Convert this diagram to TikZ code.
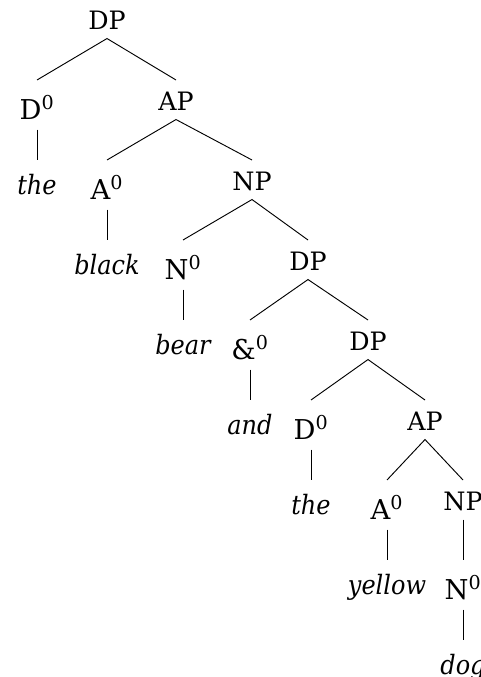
\documentclass[tikz,border=0pt]{standalone}
\usepackage{fontspec}
\setmainfont{DejaVu Serif}[ItalicFont=DejaVu Serif Condensed Italic]
\tikzset{
  phrase/.style={anchor=north,inner sep=0pt,text height=22.5pt,text depth=6.75pt,font=\fontsize{19}{22}\selectfont},
  head/.style={anchor=north,inner sep=0pt,text height=29.25pt,text depth=7.5pt,font=\fontsize{20.5}{23}\selectfont},
  word/.style={anchor=north,inner sep=0pt,text height=25.5pt,text depth=0pt,font=\fontsize{20}{22}\selectfont\itshape},
  branch/.style={line width=0.7pt}
}
\begin{document}
\begin{tikzpicture}[x=0.75pt,y=-0.75pt]
    \useasboundingbox (0,0) rectangle (481,677);
    \node[phrase] (dp0) at (107,-1) {DP};
    \node[head] (d0) at (37,80) {D\textsuperscript{0}};
    \node[phrase] (ap0) at (176,80) {AP};
    \node[word] (the0) at (37,160) {the};
    \node[head] (a0) at (107,160) {A\textsuperscript{0}};
    \node[phrase] (np0) at (252,160) {NP};
    \node[word] (black) at (107,240) {black};
    \node[head] (n0) at (183,240) {N\textsuperscript{0}};
    \node[phrase] (dp1) at (308,240) {DP};
    \node[word] (bear) at (183,320) {bear};
    \node[head] (amp) at (250,320) {\&\textsuperscript{0}};
    \node[phrase] (dp2) at (368,320) {DP};
    \node[word] (and) at (250,400) {and};
    \node[head] (d1) at (311,400) {D\textsuperscript{0}};
    \node[phrase] (ap1) at (425,400) {AP};
    \node[word] (the1) at (311,480) {the};
    \node[head] (a1) at (387,480) {A\textsuperscript{0}};
    \node[phrase] (np1) at (463,480) {NP};
    \node[word] (yellow) at (387,560) {yellow};
    \node[head] (n1) at (463,560) {N\textsuperscript{0}};
    \node[word] (dog) at (463,640) {dog};
    \draw[branch] (d0.north)--(dp0.south)--(ap0.north);
    \draw[branch] (d0.south)--(the0.north);
    \draw[branch] (a0.north)--(ap0.south)--(np0.north);
    \draw[branch] (a0.south)--(black.north);
    \draw[branch] (n0.north)--(np0.south)--(dp1.north);
    \draw[branch] (n0.south)--(bear.north);
    \draw[branch] (amp.north)--(dp1.south)--(dp2.north);
    \draw[branch] (amp.south)--(and.north);
    \draw[branch] (d1.north)--(dp2.south)--(ap1.north);
    \draw[branch] (d1.south)--(the1.north);
    \draw[branch] (a1.north)--(ap1.south)--(np1.north);
    \draw[branch] (a1.south)--(yellow.north);
    \draw[branch] (np1.south)--(n1.north);
    \draw[branch] (n1.south)--(dog.north);
\end{tikzpicture}
\end{document}
